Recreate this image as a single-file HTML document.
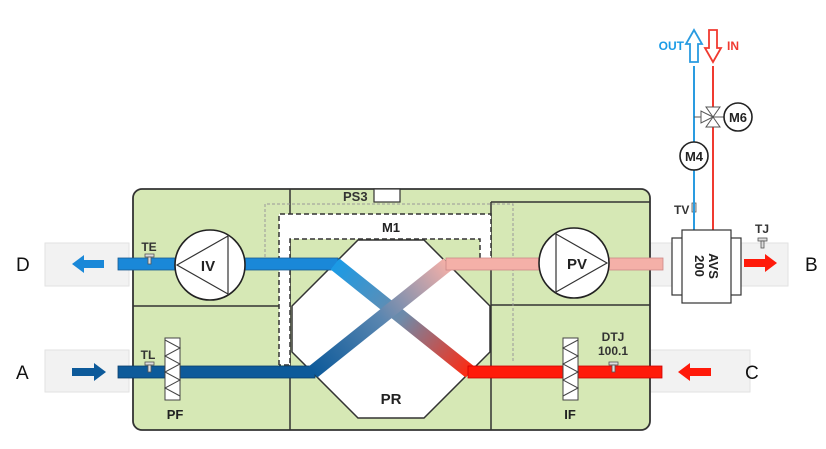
<!DOCTYPE html>
<html><head><meta charset="utf-8"><style>
html,body{margin:0;padding:0;background:#fff;}
svg{display:block;font-family:"Liberation Sans",sans-serif;}
</style></head><body>
<svg width="826" height="449" viewBox="0 0 826 449" xmlns="http://www.w3.org/2000/svg">
<defs>
<linearGradient id="g1" x1="335" y1="264" x2="470" y2="372" gradientUnits="userSpaceOnUse">
<stop offset="0" stop-color="#1a9be6"/><stop offset="0.5" stop-color="#6f8aa8"/><stop offset="1" stop-color="#ff2a10"/></linearGradient>
<linearGradient id="g2" x1="313" y1="372" x2="448" y2="264" gradientUnits="userSpaceOnUse">
<stop offset="0" stop-color="#0d5a9a"/><stop offset="0.5" stop-color="#5a86b0"/><stop offset="1" stop-color="#f4b0a8"/></linearGradient>
</defs>
<!-- external gray ducts -->
<g fill="#f2f2f2" stroke="#e2e2e2" stroke-width="1">
<rect x="45" y="243" width="84" height="43"/>
<rect x="45" y="350" width="84" height="42"/>
<rect x="650" y="243" width="138" height="43"/>
<rect x="650" y="350" width="100" height="42"/>
</g>
<!-- main box -->
<rect x="133" y="189" width="517" height="241" rx="9" fill="#d6e8b5" stroke="#333" stroke-width="1.8"/>
<g stroke="#333" stroke-width="1.5" fill="none">
<line x1="290" y1="189" x2="290" y2="430"/>
<line x1="491" y1="202" x2="491" y2="430"/>
<line x1="491" y1="202" x2="650" y2="202"/>
<line x1="133" y1="306" x2="290" y2="306"/>
<line x1="491" y1="305" x2="650" y2="305"/>
</g>
<!-- dotted gray -->
<path d="M265 262 V204 H513 V363" fill="none" stroke="#999" stroke-width="1" stroke-dasharray="3,2"/>
<!-- octagon -->
<polygon points="358,240 424,240 490,306 490,352 424,418 358,418 292,352 292,306" fill="#fff" stroke="#333" stroke-width="1.5"/>
<!-- M1 channel -->
<path d="M279 365 V214 H491 V258 H480 V239 H290 V365 Z" fill="#fff"/>
<path d="M279 365 V214 H491 V258 M480 258 V239 H290 V365 H279" fill="none" stroke="#333" stroke-width="1.5" stroke-dasharray="5,3"/>
<!-- ducts -->
<rect x="118" y="258" width="220" height="12" fill="#1a88d8" stroke="#1a5a90" stroke-width="0.8"/>
<rect x="118" y="366" width="197" height="12" fill="#0d5a9a" stroke="#0a3d6a" stroke-width="0.8"/>
<line x1="335" y1="264" x2="470" y2="372" stroke="url(#g1)" stroke-width="14"/>
<line x1="313" y1="372" x2="448" y2="264" stroke="url(#g2)" stroke-width="14"/>
<rect x="446" y="258" width="217" height="12" fill="#f4b0a8" stroke="#c88" stroke-width="0.8"/>
<rect x="468" y="366" width="194" height="12" fill="#ff1a0a" stroke="#c00" stroke-width="0.8"/>
<!-- PS3 -->
<text x="343" y="201" font-size="13" font-weight="bold" fill="#333">PS3</text>
<rect x="374" y="189" width="26" height="13" fill="#fff" stroke="#333" stroke-width="1.2"/>
<text x="391" y="232" font-size="13" font-weight="bold" fill="#222" text-anchor="middle">M1</text>
<text x="391" y="404" font-size="15" font-weight="bold" fill="#222" text-anchor="middle">PR</text>
<!-- fans -->
<circle cx="210" cy="265" r="35" fill="#fff" stroke="#222" stroke-width="1.6"/>
<polygon points="177,265 228,236 228,294" fill="none" stroke="#333" stroke-width="1.2"/>
<text x="208" y="271" font-size="15" font-weight="bold" fill="#222" text-anchor="middle">IV</text>
<circle cx="574" cy="263" r="35" fill="#fff" stroke="#222" stroke-width="1.6"/>
<polygon points="607,263 556,234 556,292" fill="none" stroke="#333" stroke-width="1.2"/>
<text x="577" y="269" font-size="15" font-weight="bold" fill="#222" text-anchor="middle">PV</text>
<!-- filters -->
<g fill="#fff" stroke="#444" stroke-width="1">
<rect x="165" y="338" width="15" height="62"/>
<rect x="563" y="338" width="15" height="62"/>
</g>
<polyline points="165,340 180,348 165,356 180,364 165,372 180,380 165,388 180,396" fill="none" stroke="#444"/>
<polyline points="578,340 563,348 578,356 563,364 578,372 563,380 578,388 563,396" fill="none" stroke="#444"/>
<text x="175" y="419" font-size="13" font-weight="bold" fill="#222" text-anchor="middle">PF</text>
<text x="570" y="419" font-size="13" font-weight="bold" fill="#222" text-anchor="middle">IF</text>
<!-- sensors -->
<g fill="#ddd" stroke="#555" stroke-width="0.8">
<rect x="145" y="254" width="9" height="3"/><rect x="148" y="257" width="3" height="7"/>
<rect x="145" y="362" width="9" height="3"/><rect x="148" y="365" width="3" height="7"/>
<rect x="609" y="362" width="9" height="3"/><rect x="612" y="365" width="3" height="7"/>
<rect x="758" y="238" width="9" height="3"/><rect x="761" y="241" width="3" height="7"/>
<rect x="692" y="203" width="4" height="9"/>
</g>
<g font-size="12" font-weight="bold" fill="#333">
<text x="149" y="251" text-anchor="middle">TE</text>
<text x="148" y="359" text-anchor="middle">TL</text>
<text x="613" y="341" text-anchor="middle">DTJ</text>
<text x="613" y="355" text-anchor="middle">100.1</text>
<text x="762" y="233" text-anchor="middle">TJ</text>
<text x="674" y="214">TV</text>
</g>
<!-- arrows -->
<polygon points="72,264 84,255 84,260 104,260 104,268 84,268 84,273" fill="#1a88d8"/>
<polygon points="106,372 94,363 94,368 72,368 72,376 94,376 94,381" fill="#0d5a9a"/>
<polygon points="777,263 765,254 765,259 744,259 744,267 765,267 765,272" fill="#ff1a0a"/>
<polygon points="678,372 690,363 690,368 711,368 711,376 690,376 690,381" fill="#ff1a0a"/>
<g font-size="19" fill="#111">
<text x="16" y="271">D</text><text x="16" y="379">A</text>
<text x="805" y="271">B</text><text x="745" y="379">C</text>
</g>
<!-- pipes -->
<line x1="694" y1="66" x2="694" y2="230" stroke="#2a9be0" stroke-width="2"/>
<line x1="713" y1="66" x2="713" y2="230" stroke="#f03a30" stroke-width="2"/>
<polygon points="694,30 702,44 698,44 698,62 690,62 690,44 686,44" fill="#fff" stroke="#2a9be0" stroke-width="1.8"/>
<polygon points="713,62 721,48 717,48 717,30 709,30 709,48 705,48" fill="#fff" stroke="#f03a30" stroke-width="1.8"/>
<text x="684" y="50" font-size="12" font-weight="bold" fill="#1a9be6" text-anchor="end">OUT</text>
<text x="727" y="50" font-size="12" font-weight="bold" fill="#f03a30">IN</text>
<!-- valve -->
<g fill="#fff" stroke="#555" stroke-width="1">
<polygon points="713,117 706,107 720,107"/>
<polygon points="713,117 706,127 720,127"/>
<polygon points="713,117 701,111 701,123"/>
</g>
<line x1="694" y1="117" x2="701" y2="117" stroke="#555"/>
<line x1="713" y1="117" x2="724" y2="117" stroke="#555"/>
<circle cx="738" cy="117" r="14" fill="#fff" stroke="#222" stroke-width="1.6"/>
<text x="738" y="122" font-size="13" font-weight="bold" fill="#222" text-anchor="middle">M6</text>
<circle cx="694" cy="156" r="14" fill="#fff" stroke="#222" stroke-width="1.6"/>
<text x="694" y="161" font-size="13" font-weight="bold" fill="#222" text-anchor="middle">M4</text>
<!-- AVS -->
<g fill="#fff" stroke="#333" stroke-width="1.2">
<rect x="672" y="238" width="11" height="57"/>
<rect x="730" y="238" width="11" height="57"/>
<rect x="682" y="230" width="49" height="73"/>
</g>
<text transform="translate(706,266) rotate(90)" font-size="13" font-weight="bold" fill="#222" text-anchor="middle"><tspan x="0" y="-3">AVS</tspan><tspan x="0" y="11">200</tspan></text>
</svg>
</body></html>
